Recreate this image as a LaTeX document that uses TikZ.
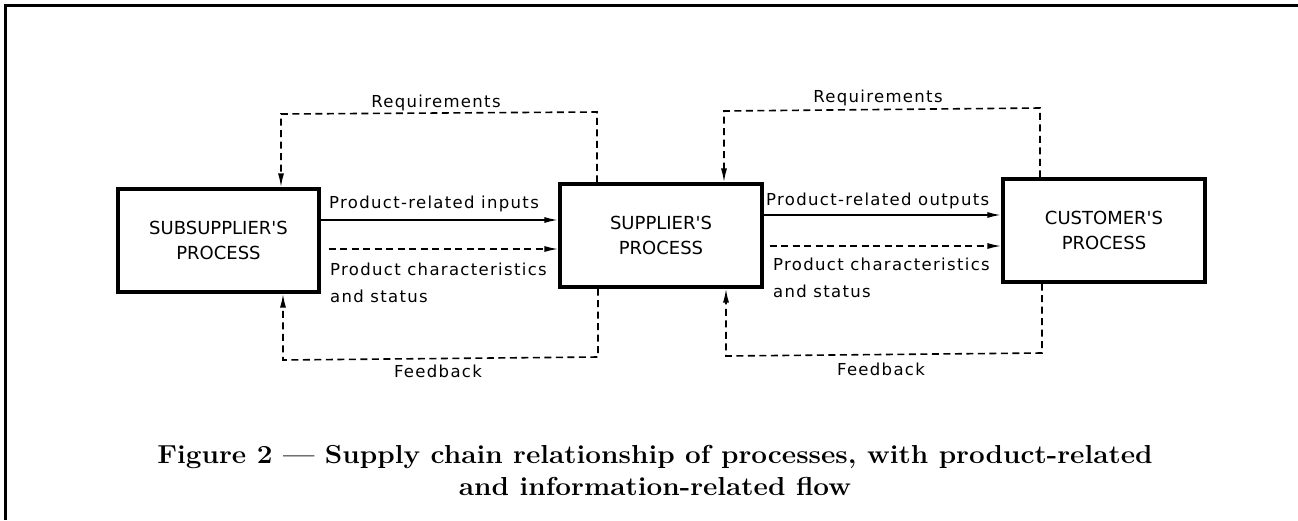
\documentclass[tikz,border=0pt]{standalone}
\usepackage{fontspec}
\usetikzlibrary{arrows.meta,calc}
\newfontfamily\isobox{DejaVu Sans}
\newfontfamily\isolbl[LetterSpace=8]{DejaVu Sans}
\tikzset{
  procbox/.style={draw,line width=3.2pt,minimum width=202pt,minimum height=103pt,inner sep=0pt,align=center,
    font=\isobox\fontsize{18}{25}\selectfont},
  lbl/.style={inner sep=0pt,font=\isolbl\fontsize{16.5}{20}\selectfont},
  tip/.style={-{Latex[length=14pt,width=6pt]}},
  sline/.style={line width=1.8pt},
  dline/.style={line width=1.6pt,dash pattern=on 7pt off 4.5pt},
  captext/.style={inner sep=0pt,font=\bfseries\fontsize{26}{30}\selectfont},
}
\begin{document}
\begin{tikzpicture}[x=1pt,y=-1pt]
\useasboundingbox (0,0) rectangle (1298,520);
\draw[line width=2.6pt] (5.5,520) -- (5.5,5.5) -- (1298,5.5);

\node[procbox,minimum width=201pt] (sub) at (218.5,240.5) {SUBSUPPLIER'S\\PROCESS};
\node[procbox] (sup) at (661,235.5) {SUPPLIER'S\\PROCESS};
\node[procbox] (cus) at (1104,230.5) {CUSTOMER'S\\PROCESS};

% product and information flows
\draw[sline,tip] (sub.east |- 0,220) -- (sup.west |- 0,220);
\draw[dline,tip] ([xshift=8pt]sub.east |- 0,249) -- (sup.west |- 0,249);
\draw[sline,tip] (sup.east |- 0,215) -- (cus.west |- 0,215);
\draw[dline,tip] ([xshift=6pt]sup.east |- 0,246) -- (cus.west |- 0,246);

\node[lbl,anchor=base west] (l1) at (329,208) {Product-related inputs};
\node[lbl,anchor=base west] (l2) at (330,275) {Product characteristics};
\node[lbl,anchor=base west] (l3) at (330,302) {and status};
\node[lbl,anchor=base west] (l4) at (766,205) {Product-related outputs};
\node[lbl,anchor=base west] (l5) at (773,270) {Product characteristics};
\node[lbl,anchor=base west] (l6) at (773,297) {and status};

% requirement and feedback loops
\coordinate (r1r) at (597,112);
\coordinate (r1l) at (281,114);
\coordinate (f1r) at (598,357);
\coordinate (f1l) at (283,360);
\coordinate (r2r) at (1040,108);
\coordinate (r2l) at (724,111);
\coordinate (f2r) at (1042,353);
\coordinate (f2l) at (726,356);

\draw[dline,tip] (r1r |- sup.north) -- (r1r) -- (r1l) -- (r1l |- sub.north);
\draw[dline,tip] (f1r |- sup.south) -- (f1r) -- (f1l) -- (f1l |- sub.south);
\draw[dline,tip] (r2r |- cus.north) -- (r2r) -- (r2l) -- (r2l |- sup.north);
\draw[dline,tip] (f2r |- cus.south) -- (f2r) -- (f2l) -- (f2l |- sup.south);

\node[lbl,anchor=base] (q1) at (436,107) {Requirements};
\node[lbl,anchor=base] (b1) at (438,377) {Feedback};
\node[lbl,anchor=base] (q2) at (878,102) {Requirements};
\node[lbl,anchor=base] (b2) at (881,375) {Feedback};

\node[captext,anchor=base] (c1) at (655,463) {\scalebox{1.075}[1]{Figure 2 --- Supply chain relationship of processes, with product-related}};
\node[captext,anchor=base] (c2) at (655,495) {\scalebox{1.075}[1]{and information-related flow}};
\end{tikzpicture}
\end{document}
